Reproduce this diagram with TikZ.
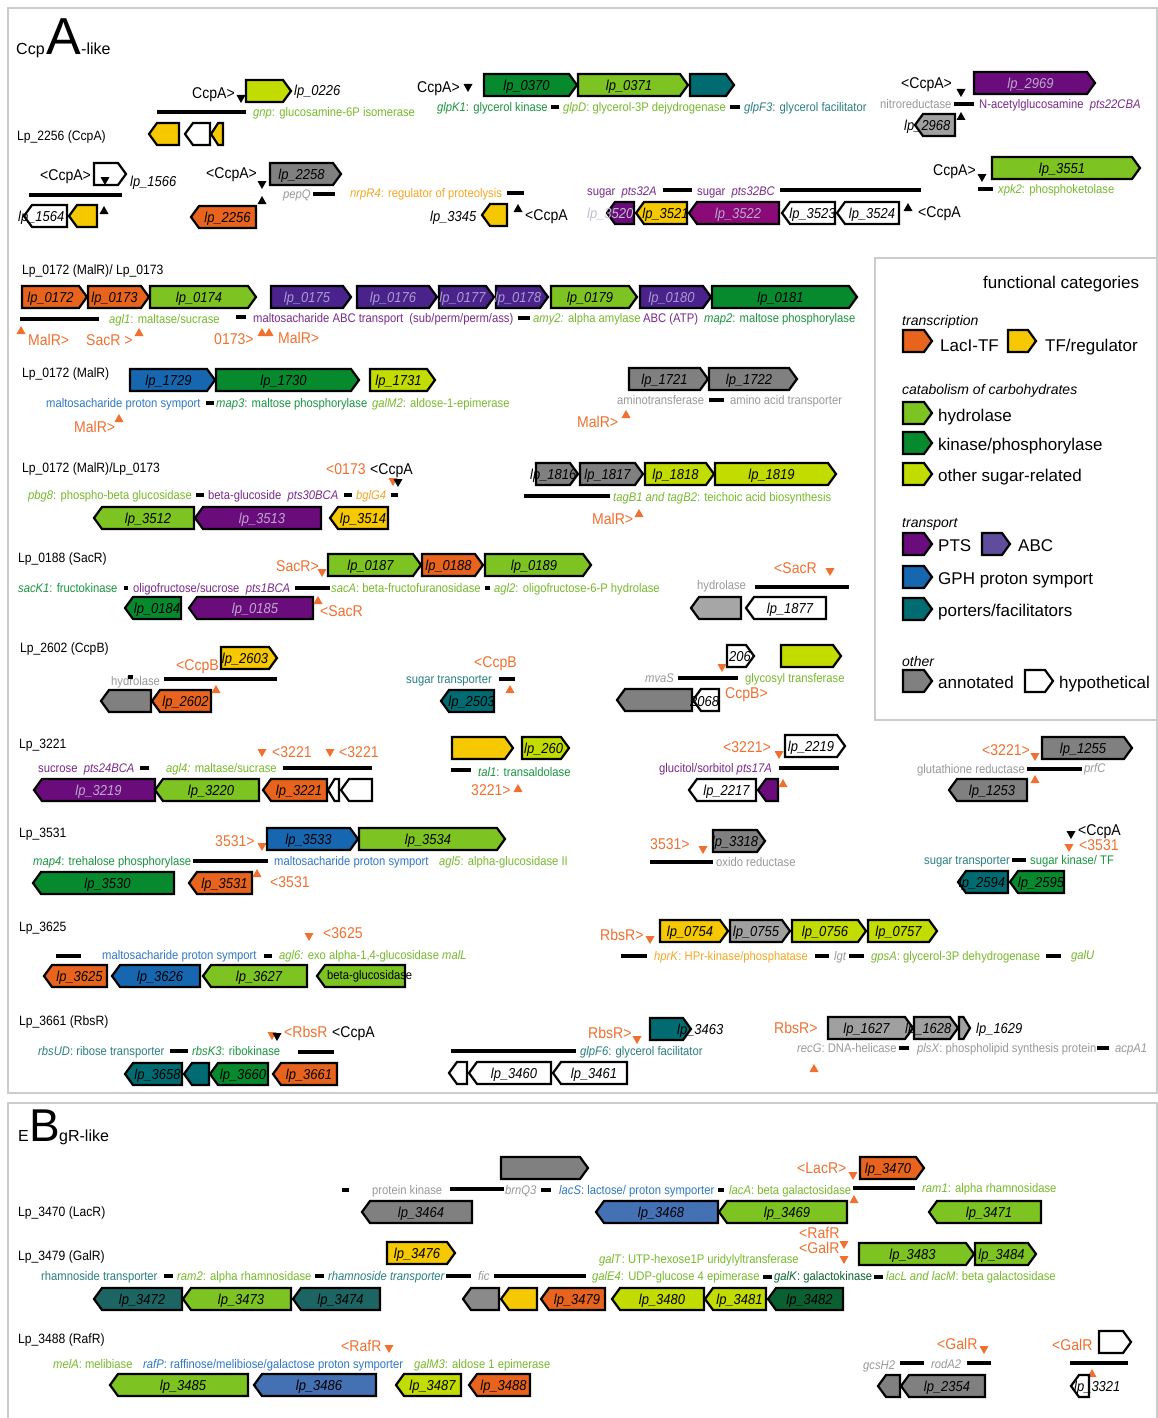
\documentclass[tikz,border=0pt]{standalone}
\usepackage{fontspec}
\setmainfont{Liberation Sans}
\newfontfamily\nar[FakeStretch=0.9]{Liberation Sans}
\definecolor{laci}{HTML}{E8641E}
\definecolor{tfy}{HTML}{F5C800}
\definecolor{hyd}{HTML}{7DC423}
\definecolor{kin}{HTML}{078A2E}
\definecolor{kinD}{HTML}{0A6030}
\definecolor{oth}{HTML}{C3DC00}
\definecolor{pts}{HTML}{6B0C7C}
\definecolor{ptsM}{HTML}{8A0A78}
\definecolor{abc}{HTML}{4A228C}
\definecolor{abcL}{HTML}{604C9C}
\definecolor{gph}{HTML}{1666B0}
\definecolor{gphB}{HTML}{4470B4}
\definecolor{por}{HTML}{006B70}
\definecolor{porB}{HTML}{1D6563}
\definecolor{ann}{HTML}{808080}
\definecolor{annB}{HTML}{8A8A8A}
\definecolor{gryL}{HTML}{A6A6A6}
\definecolor{gryM}{HTML}{A0A0A0}
\definecolor{tG}{HTML}{78BA2C}
\definecolor{tK}{HTML}{1A9640}
\definecolor{tKd}{HTML}{0A6432}
\definecolor{tT}{HTML}{2A7F82}
\definecolor{tP}{HTML}{7A2A8C}
\definecolor{tGr}{HTML}{999999}
\definecolor{tO}{HTML}{F07030}
\definecolor{tY}{HTML}{F5A623}
\definecolor{tB}{HTML}{2F78C4}
\definecolor{ltxt}{HTML}{BBA9CC}
\definecolor{ltxtA}{HTML}{A99BD0}
\definecolor{ltxtW}{HTML}{C4BCCC}
\definecolor{frm}{HTML}{CCCCCC}
\newcounter{nn}
\newcommand\LP[1]{lp\_#1}
\newcommand\Tx[4]{\stepcounter{nn}\node[#1] (t\thenn) at (#2,#3) {#4};}
\newcommand\Hb[3]{\draw[hbar] (#1,#3) -- (#2,#3);}
\newcommand\TrD[3]{\fill[#3] (#1-4.5,#2-4) -- (#1+4.5,#2-4) -- (#1,#2+4) -- cycle;}
\newcommand\TrU[3]{\fill[#3] (#1-4.5,#2+4) -- (#1+4.5,#2+4) -- (#1,#2-4) -- cycle;}
\newcommand\GR[6][black]{%
 \pgfmathsetmacro\gdd{min(8,0.6*(#3-#2))}%
 \filldraw[gene,fill=#5] (#2,#4-11) -- ({#3-\gdd},#4-11) -- (#3,#4) -- ({#3-\gdd},#4+11) -- (#2,#4+11) -- cycle;%
 \if\relax\detokenize{#6}\relax\else\stepcounter{nn}\node[glab,text=#1] (g\thenn) at ({(#2+#3-\gdd)/2},#4) {#6};\fi}
\newcommand\GL[6][black]{%
 \pgfmathsetmacro\gdd{min(8,0.6*(#3-#2))}%
 \filldraw[gene,fill=#5] (#3,#4-11) -- ({#2+\gdd},#4-11) -- (#2,#4) -- ({#2+\gdd},#4+11) -- (#3,#4+11) -- cycle;%
 \if\relax\detokenize{#6}\relax\else\stepcounter{nn}\node[glab,text=#1] (g\thenn) at ({(#2+#3+\gdd)/2},#4) {#6};\fi}
\tikzset{
 gene/.style={draw=black,line width=2.2pt},
 hbar/.style={draw=black,line width=3.6pt},
 frame/.style={draw=frm,line width=1.3pt},
 glab/.style={inner sep=0pt,font=\nar\fontsize{14.4}{16}\selectfont\itshape,text height=10.4pt,text depth=0pt},
 ann/.style={anchor=west,inner sep=0pt,font=\nar\fontsize{12.5}{14}\selectfont,text height=9pt,text depth=0pt},
 rowl/.style={anchor=west,inner sep=0pt,font=\nar\fontsize{13.5}{15}\selectfont,text height=9.7pt,text depth=0pt},
 reg/.style={anchor=west,inner sep=0pt,font=\nar\fontsize{15.6}{17}\selectfont,text height=11.2pt,text depth=0pt},
 regO/.style={reg,text=tO},
 legt/.style={anchor=west,inner sep=0pt,font=\fontsize{17}{19}\selectfont,text height=12.2pt,text depth=0pt},
 legi/.style={anchor=west,inner sep=0pt,font=\fontsize{14}{16}\selectfont\itshape,text height=10pt,text depth=0pt},
}
\begin{document}
\begin{tikzpicture}[x=1pt,y=-1pt]
\fill[white] (0,0) rectangle (1158,1418);
\useasboundingbox (0,0) rectangle (1158,1418);
% frames
\draw[frame] (8,8) rectangle (1157,1093);
\draw[frame] (8,1103) rectangle (1157,1430);
\draw[frame] (875,258) rectangle (1157,720);
% title A
\Tx{anchor=base west,inner sep=0pt,font=\fontsize{16}{18}\selectfont}{16}{55}{Ccp}
\Tx{anchor=base west,inner sep=0pt,font=\fontsize{52}{54}\selectfont}{46}{55}{A}
\Tx{anchor=base west,inner sep=0pt,font=\fontsize{16}{18}\selectfont}{81}{55}{-like}
% ---- row 1
\Tx{reg}{192}{93}{CcpA>}
\TrD{241}{99}{black}
\GR{246}{291}{91}{oth}{}
\Tx{glab,anchor=west}{294}{90}{\LP{0226}}
\Hb{157}{246}{112}
\Tx{ann,text=tG}{253}{112}{\textit{gnp}: glucosamine-6P isomerase}
\GL{149}{179}{134}{tfy}{}
\GL{185}{210}{134}{white}{}
\GL{211}{223}{134}{tfy}{}
\Tx{rowl}{17}{136}{Lp\_2256 (CcpA)}
\Tx{reg}{417}{87}{CcpA>}
\TrD{468}{88}{black}
\GR{484}{577}{85}{kin}{\LP{0370}}
\GR{578}{688}{85}{hyd}{\LP{0371}}
\GR{690}{734}{85}{por}{}
\Tx{ann,text=tK}{437}{107}{\textit{glpK1}: glycerol kinase}
\Hb{551}{559}{107}
\Tx{ann,text=tG}{563}{107}{\textit{glpD}: glycerol-3P dejydrogenase}
\Hb{730}{740}{107}
\Tx{ann,text=tT}{744}{107}{\textit{glpF3}: glycerol facilitator}
\Tx{reg}{901}{83}{<CcpA>}
\TrD{961}{93}{black}
\GR[ltxt]{974}{1095}{83}{pts}{\LP{2969}}
\Tx{ann,text=tGr}{880}{104}{nitroreductase}
\Hb{954}{974}{104}
\Tx{ann,text=tP}{979}{104}{N-acetylglucosamine\ \ \textit{pts22CBA}}
\TrU{961}{116}{black}
\GL{915}{955}{125}{gryM}{}
\Tx{glab,anchor=west}{904}{125}{\LP{2968}}
% ---- row 2
\Tx{reg}{40}{175}{<CcpA>}
\GR{94}{126}{174}{white}{}
\TrD{105}{181}{black}
\Tx{glab,anchor=west}{130}{181}{\LP{1566}}
\Hb{29}{122}{195}
\GL{24}{67}{216}{white}{}
\Tx{glab,anchor=west}{18}{216}{\LP{1564}}
\GL{69}{97}{216}{tfy}{}
\TrU{104}{210}{black}
\Tx{reg}{206}{173}{<CcpA>}
\TrD{262}{185}{black}
\TrU{262}{200}{black}
\GR{270}{341}{174}{ann}{\LP{2258}}
\Tx{ann,text=tGr}{283}{194}{\textit{pepQ}}
\Hb{313}{335}{194}
\GL{191}{256}{217}{laci}{\LP{2256}}
\Tx{ann,text=tY}{350}{193}{\textit{nrpR4}: regulator of proteolysis}
\Hb{507}{524}{193}
\Tx{glab,anchor=west}{430}{216}{\LP{3345}}
\GL{482}{507}{215}{tfy}{}
\TrU{518}{208}{black}
\Tx{reg}{525}{215}{<CcpA}
\Tx{ann,text=tP}{587}{191}{sugar\ \ \textit{pts32A}}
\Hb{663}{692}{190}
\Tx{ann,text=tP}{697}{191}{sugar\ \ \textit{pts32BC}}
\Hb{780}{921}{190}
\GL{607}{634}{213}{pts}{}
\Tx{glab,anchor=west,text=ltxtW}{587}{213}{\LP{3520}}
\GL{636}{687}{213}{tfy}{\LP{3521}}
\GL[ltxt]{689}{779}{213}{ptsM}{\LP{3522}}
\GL{782}{835}{213}{white}{\LP{3523}}
\GL{837}{899}{213}{white}{\LP{3524}}
\TrU{908}{207}{black}
\Tx{reg}{918}{212}{<CcpA}
\Tx{reg}{933}{170}{CcpA>}
\TrD{982}{178}{black}
\GR{992}{1140}{168}{hyd}{\LP{3551}}
\Hb{978}{993}{189}
\Tx{ann,text=tG}{998}{189}{\textit{xpk2}: phosphoketolase}
% ---- legend
\Tx{legt}{983}{282}{functional categories}
\Tx{legi}{902}{320}{transcription}
\GR{903}{932}{341}{laci}{}
\Tx{legt}{940}{345}{LacI-TF}
\GR{1008}{1036}{341}{tfy}{}
\Tx{legt}{1045}{345}{TF/regulator}
\Tx{legi}{902}{389}{catabolism of carbohydrates}
\GR{903}{932}{413}{hyd}{}
\Tx{legt}{938}{415}{hydrolase}
\GR{903}{932}{443}{kin}{}
\Tx{legt}{938}{444}{kinase/phosphorylase}
\GR{903}{932}{474}{oth}{}
\Tx{legt}{938}{475}{other sugar-related}
\Tx{legi}{902}{522}{transport}
\GR{903}{932}{544}{pts}{}
\Tx{legt}{938}{545}{PTS}
\GR{982}{1010}{544}{abcL}{}
\Tx{legt}{1018}{545}{ABC}
\GR{903}{932}{577}{gph}{}
\Tx{legt}{938}{578}{GPH proton symport}
\GR{903}{932}{609}{por}{}
\Tx{legt}{938}{610}{porters/facilitators}
\Tx{legi}{902}{661}{other}
\GR{903}{932}{681}{ann}{}
\Tx{legt}{938}{682}{annotated}
\GR{1025}{1053}{681}{white}{}
\Tx{legt}{1059}{682}{hypothetical}
% ---- row 3
\Tx{rowl}{22}{270}{Lp\_0172 (MalR)/ Lp\_0173}
\GR{22}{87}{297}{laci}{\LP{0172}}
\GR{88}{149}{297}{laci}{\LP{0173}}
\GR{150}{256}{297}{hyd}{\LP{0174}}
\GR[ltxtA]{271}{351}{297}{abc}{\LP{0175}}
\GR[ltxtA]{357}{437}{297}{abc}{\LP{0176}}
\GR[ltxtA]{439}{494}{297}{abc}{\LP{0177}}
\GR[ltxtA]{496}{548}{297}{abc}{\LP{0178}}
\GR{551}{637}{297}{hyd}{\LP{0179}}
\GR[ltxtA]{640}{711}{297}{abc}{\LP{0180}}
\GR{712}{857}{297}{kin}{\LP{0181}}
\Hb{20}{99}{319}
\Tx{ann,text=tG}{109}{319}{\textit{agl1}: maltase/sucrase}
\Hb{236}{246}{317}
\Tx{ann,text=tP}{253}{318}{maltosacharide ABC transport\ \ (sub/perm/perm/ass)}
\Hb{518}{530}{318}
\Tx{ann,text=tG}{533}{318}{\textit{amy2:} alpha amylase}
\Tx{ann,text=tP}{643}{318}{ABC (ATP)}
\Tx{ann,text=tK}{704}{318}{\textit{map2}: maltose phosphorylase}
\TrU{21}{330}{tO}
\Tx{regO}{28}{340}{MalR>}
\Tx{regO}{86}{340}{SacR >}
\TrU{139}{332}{tO}
\Tx{regO}{214}{339}{0173>}
\TrU{262}{332}{tO}
\TrU{269}{332}{tO}
\Tx{regO}{278}{338}{MalR>}
% ---- row 4
\Tx{rowl}{22}{373}{Lp\_0172 (MalR)}
\GR{130}{215}{380}{gph}{\LP{1729}}
\GR{216}{359}{380}{kin}{\LP{1730}}
\GR{370}{435}{380}{oth}{\LP{1731}}
\Tx{ann,text=tB}{46}{403}{maltosacharide proton symport}
\Hb{206}{214}{403}
\Tx{ann,text=tK}{216}{403}{\textit{map3}: maltose phosphorylase}
\Tx{ann,text=tG}{372}{403}{\textit{galM2}: aldose-1-epimerase}
\Tx{regO}{74}{427}{MalR>}
\TrU{119}{418}{tO}
\GR{629}{708}{379}{ann}{\LP{1721}}
\GR{709}{797}{379}{ann}{\LP{1722}}
\Tx{ann,text=tGr}{617}{400}{aminotransferase}
\Hb{709}{724}{400}
\Tx{ann,text=tGr}{730}{400}{amino acid transporter}
\Tx{regO}{577}{422}{MalR>}
\TrU{626}{414}{tO}
% ---- row 5
\Tx{rowl}{22}{468}{Lp\_0172 (MalR)/Lp\_0173}
\Tx{regO}{326}{469}{<0173}
\Tx{reg}{370}{469}{<CcpA}
\TrD{393}{482}{tO}
\TrD{398}{483}{black}
\Tx{ann,text=tG}{28}{495}{\textit{pbg8}: phospho-beta glucosidase}
\Hb{196}{204}{495}
\Tx{ann,text=tP}{208}{495}{beta-glucoside\ \ \textit{pts30BCA}}
\Hb{344}{352}{495}
\Tx{ann,text=tY}{356}{495}{\textit{bglG4}}
\Hb{391}{398}{495}
\GL{94}{194}{518}{hyd}{\LP{3512}}
\GL[ltxt]{195}{321}{518}{pts}{\LP{3513}}
\GL{330}{388}{518}{tfy}{\LP{3514}}
\GR{536}{578}{474}{ann}{}
\Tx{glab,anchor=west}{530}{474}{\LP{1816}}
\GR{580}{643}{474}{ann}{\LP{1817}}
\GR{645}{714}{474}{oth}{\LP{1818}}
\GR{715}{836}{474}{oth}{\LP{1819}}
\Hb{524}{610}{496}
\Tx{ann,text=tG}{613}{497}{\textit{tagB1 and tagB2}: teichoic acid biosynthesis}
\Tx{regO}{592}{519}{MalR>}
\TrU{639}{513}{tO}
% ---- row 6
\Tx{rowl}{18}{558}{Lp\_0188 (SacR)}
\Tx{regO}{276}{566}{SacR>}
\TrD{322}{573}{tO}
\GR{328}{421}{565}{hyd}{\LP{0187}}
\GR{422}{483}{565}{laci}{\LP{0188}}
\GR{485}{591}{565}{hyd}{\LP{0189}}
\Tx{ann,text=tK}{18}{588}{\textit{sacK1}: fructokinase}
\Hb{124}{128}{588}
\Tx{ann,text=tP}{133}{588}{oligofructose/sucrose\ \ \textit{pts1BCA}}
\Hb{295}{330}{588}
\Tx{ann,text=tG}{331}{588}{\textit{sacA}: beta-fructofuranosidase}
\Hb{485}{490}{588}
\Tx{ann,text=tG}{494}{588}{\textit{agl2}: oligofructose-6-P hydrolase}
\GL{125}{181}{608}{kin}{\LP{0184}}
\GL[ltxt]{189}{313}{608}{pts}{\LP{0185}}
\TrU{318}{600}{tO}
\Tx{regO}{320}{611}{<SacR}
\Tx{regO}{774}{568}{<SacR}
\TrD{830}{572}{tO}
\Tx{ann,text=tGr}{697}{585}{hydrolase}
\Hb{755}{849}{587}
\GL{691}{741}{608}{gryL}{}
\GL{746}{826}{608}{white}{\LP{1877}}
% ---- row 7
\Tx{rowl}{20}{648}{Lp\_2602 (CcpB)}
\Tx{regO}{176}{665}{<CcpB}
\GR{221}{277}{658}{tfy}{\LP{2603}}
\Tx{ann,text=tGr}{111}{681}{hydrolase}
\Hb{128}{133}{677}
\Hb{164}{277}{679}
\GL{101}{151}{701}{ann}{}
\GL{152}{211}{701}{laci}{\LP{2602}}
\TrU{216}{689}{tO}
\Tx{regO}{474}{662}{<CcpB}
\Tx{ann,text=tT}{406}{679}{sugar transporter}
\Hb{499}{515}{679}
\GL{441}{494}{701}{por}{\LP{2503}}
\TrU{510}{689}{tO}
\GR{727}{754}{656}{white}{}
\Tx{glab,anchor=west}{729}{656}{206}
\GR{781}{841}{656}{oth}{}
\Tx{ann,text=tGr}{645}{678}{\textit{mvaS}}
\Hb{678}{738}{678}
\TrD{722}{668}{tO}
\Tx{ann,text=tG}{745}{678}{glycosyl transferase}
\GL{617}{692}{700}{ann}{}
\GL{693}{719}{700}{white}{}
\Tx{glab,anchor=west}{690}{701}{2068}
\Tx{regO}{725}{693}{CcpB>}
% ---- row 8
\Tx{rowl}{19}{744}{Lp\_3221}
\TrD{262}{753}{tO}
\Tx{regO}{272}{752}{<3221}
\TrD{330}{753}{tO}
\Tx{regO}{339}{752}{<3221}
\Tx{ann,text=tP}{38}{768}{sucrose\ \ \textit{pts24BCA}}
\Hb{140}{149}{768}
\Tx{ann,text=tG}{166}{768}{\textit{agl4:} maltase/sucrase}
\Hb{283}{372}{768}
\GL[ltxt]{34}{155}{790}{pts}{\LP{3219}}
\GL{155}{259}{790}{hyd}{\LP{3220}}
\GL{263}{327}{790}{laci}{\LP{3221}}
\GL{328}{339}{790}{white}{}
\GL{341}{372}{790}{white}{}
\GR{452}{513}{748}{tfy}{}
\GR{522}{569}{748}{oth}{}
\Tx{glab,anchor=west}{524}{748}{\LP{260}}
\Hb{451}{471}{770}
\Tx{ann,text=tK}{478}{772}{\textit{tal1}: transaldolase}
\Tx{regO}{471}{790}{3221>}
\TrU{518}{788}{tO}
\Tx{regO}{723}{747}{<3221>}
\TrD{779}{755}{tO}
\GR{785}{845}{746}{white}{\LP{2219}}
\Tx{ann,text=tP}{659}{768}{glucitol/sorbitol \textit{pts17A}}
\Hb{779}{839}{768}
\GL{689}{756}{790}{white}{\LP{2217}}
\GL{758}{778}{790}{pts}{}
\TrU{783}{783}{tO}
\Tx{regO}{982}{750}{<3221>}
\TrD{1035}{757}{tO}
\GR{1042}{1132}{748}{ann}{\LP{1255}}
\Tx{ann,text=tGr}{917}{769}{glutathione reductase}
\Hb{1027}{1082}{769}
\Tx{ann,text=tGr}{1084}{768}{\textit{prfC}}
\GL{949}{1027}{790}{ann}{\LP{1253}}
\TrU{1035}{779}{tO}
% ---- row 9
\Tx{rowl}{19}{833}{Lp\_3531}
\Tx{regO}{215}{841}{3531>}
\TrD{262}{847}{tO}
\GR{267}{358}{839}{gph}{\LP{3533}}
\GR{359}{505}{839}{hyd}{\LP{3534}}
\Tx{ann,text=tK}{33}{861}{\textit{map4}: trehalose phosphorylase}
\Hb{193}{268}{861}
\Tx{ann,text=tB}{274}{861}{maltosacharide proton symport}
\Tx{ann,text=tG}{439}{861}{\textit{agl5}: alpha-glucosidase II}
\GL{33}{174}{883}{kin}{\LP{3530}}
\GL{189}{252}{883}{laci}{\LP{3531}}
\TrU{257}{873}{tO}
\Tx{regO}{270}{882}{<3531}
\Tx{regO}{650}{844}{3531>}
\TrD{703}{850}{tO}
\GR{713}{765}{841}{ann}{\LP{3318}}
\Hb{650}{713}{862}
\Tx{ann,text=tGr}{716}{862}{oxido reductase}
\TrD{1071}{835}{black}
\Tx{reg}{1078}{830}{<CcpA}
\TrD{1069}{848}{tO}
\Tx{regO}{1079}{845}{<3531}
\Tx{ann,text=tT}{924}{860}{sugar transporter}
\Hb{1012}{1026}{860}
\Tx{ann,text=tK}{1030}{860}{sugar kinase/ TF}
\GL{958}{1008}{882}{por}{}
\Tx{glab}{982}{882}{\LP{2594}}
\GL{1010}{1064}{882}{kin}{\LP{2595}}
% ---- row 10
\Tx{rowl}{19}{927}{Lp\_3625}
\TrD{309}{937}{tO}
\Tx{regO}{323}{933}{<3625}
\Hb{56}{81}{956}
\Tx{ann,text=tB}{102}{955}{maltosacharide proton symport}
\Hb{264}{272}{956}
\Tx{ann,text=tG}{279}{955}{\textit{agl6:} exo alpha-1,4-glucosidase \textit{malL}}
\GL{44}{107}{976}{laci}{\LP{3625}}
\GL{112}{200}{976}{gph}{\LP{3626}}
\GL{203}{307}{976}{hyd}{\LP{3627}}
\GL{317}{405}{976}{hyd}{}
\Tx{ann}{327}{975}{beta-glucosidase}
\Tx{regO}{600}{935}{RbsR>}
\TrD{650}{940}{tO}
\GR{660}{728}{931}{tfy}{\LP{0754}}
\GR{730}{790}{931}{gryM}{\LP{0755}}
\GR{792}{866}{931}{oth}{\LP{0756}}
\GR{868}{937}{931}{oth}{\LP{0757}}
\Hb{621}{647}{956}
\Tx{ann,text=tY}{654}{956}{\textit{hprK}: HPr-kinase/phosphatase}
\Hb{815}{829}{956}
\Tx{ann,text=tGr}{834}{956}{\textit{lgt}}
\Hb{849}{864}{956}
\Tx{ann,text=tG}{871}{956}{\textit{gpsA}: glycerol-3P dehydrogenase}
\Hb{1046}{1061}{956}
\Tx{ann,text=tG}{1071}{955}{\textit{galU}}
% ---- row 11
\Tx{rowl}{19}{1021}{Lp\_3661 (RbsR)}
\TrD{272}{1036}{tO}
\TrD{277}{1037}{black}
\Tx{regO}{284}{1032}{<RbsR}
\Tx{reg}{332}{1032}{<CcpA}
\Tx{ann,text=tT}{38}{1051}{\textit{rbsUD}: ribose transporter}
\Hb{170}{188}{1051}
\Tx{ann,text=tK}{192}{1051}{\textit{rbsK3}: ribokinase}
\Hb{298}{334}{1052}
\GL{125}{182}{1074}{por}{\LP{3658}}
\GL{184}{209}{1074}{por}{}
\GL{210}{268}{1074}{kin}{\LP{3660}}
\GL{273}{337}{1074}{laci}{\LP{3661}}
\Tx{regO}{588}{1033}{RbsR>}
\TrD{637}{1040}{tO}
\GR{650}{691}{1029}{por}{}
\Tx{glab,anchor=west}{677}{1029}{\LP{3463}}
\Hb{451}{576}{1051}
\Tx{ann,text=tT}{580}{1051}{\textit{glpF6}: glycerol facilitator}
\GL{449}{467}{1073}{white}{}
\GL{469}{551}{1073}{white}{\LP{3460}}
\GL{553}{627}{1073}{white}{\LP{3461}}
\Tx{regO}{774}{1028}{RbsR>}
\GR{828}{913}{1028}{gryM}{\LP{1627}}
\GR{914}{958}{1028}{gryM}{}
\Tx{glab,anchor=west}{905}{1028}{\LP{1628}}
\GR{959}{970}{1028}{gryM}{}
\Tx{glab,anchor=west}{976}{1028}{\LP{1629}}
\Tx{ann,text=tGr}{797}{1048}{\textit{recG}: DNA-helicase}
\Hb{899}{909}{1048}
\Tx{ann,text=tGr}{917}{1048}{\textit{plsX}: phospholipid synthesis protein}
\Hb{1097}{1109}{1048}
\Tx{ann,text=tGr}{1115}{1048}{\textit{acpA1}}
\TrU{814}{1068}{tO}
% ==== panel B
\Tx{anchor=base west,inner sep=0pt,font=\fontsize{16}{18}\selectfont}{18}{1141}{E}
\Tx{anchor=base west,inner sep=0pt,font=\fontsize{46}{48}\selectfont}{29}{1141}{B}
\Tx{anchor=base west,inner sep=0pt,font=\fontsize{16}{18}\selectfont}{59}{1141}{gR-like}
% LacR
\Tx{rowl}{18}{1212}{Lp\_3470 (LacR)}
\GR{501}{588}{1168}{ann}{}
\Hb{342}{349}{1190}
\Tx{ann,text=tGr}{372}{1190}{protein kinase}
\Hb{450}{504}{1189}
\Tx{ann,text=tGr}{505}{1190}{\textit{brnQ3}}
\Hb{541}{551}{1190}
\Tx{ann,text=tB}{559}{1190}{\textit{lacS}: lactose/ proton symporter}
\Hb{718}{724}{1190}
\Tx{ann,text=tG}{729}{1190}{\textit{lacA}: beta galactosidase}
\Hb{853}{915}{1188}
\Tx{ann,text=tG}{922}{1188}{\textit{ram1}: alpha rhamnosidase}
\Tx{regO}{797}{1168}{<LacR>}
\TrD{853}{1176}{tO}
\GR{860}{924}{1168}{laci}{\LP{3470}}
\GL{362}{472}{1212}{ann}{\LP{3464}}
\GL{596}{718}{1212}{gphB}{\LP{3468}}
\GL{719}{847}{1212}{hyd}{\LP{3469}}
\TrU{854}{1199}{tO}
\GL{929}{1041}{1212}{hyd}{\LP{3471}}
% GalR
\Tx{rowl}{18}{1256}{Lp\_3479 (GalR)}
\GR{387}{455}{1253}{tfy}{\LP{3476}}
\Tx{regO}{799}{1233}{<RafR}
\Tx{regO}{799}{1248}{<GalR}
\TrD{844}{1245}{tO}
\TrD{844}{1260}{tO}
\GR{859}{974}{1254}{hyd}{\LP{3483}}
\GR{975}{1036}{1254}{hyd}{\LP{3484}}
\Tx{ann,text=tG}{599}{1259}{\textit{galT}: UTP-hexose1P uridylyltransferase}
\Tx{ann,text=tT}{41}{1276}{rhamnoside transporter}
\Hb{164}{173}{1276}
\Tx{ann,text=tG}{177}{1276}{\textit{ram2}: alpha rhamnosidase}
\Hb{315}{324}{1276}
\Tx{ann,text=tT}{328}{1276}{\textit{rhamnoside transporter}}
\Hb{446}{471}{1276}
\Tx{ann,text=tGr}{478}{1276}{\textit{fic}}
\Hb{494}{586}{1276}
\Tx{ann,text=tG}{592}{1276}{\textit{galE4}: UDP-glucose 4 epimerase}
\Hb{763}{772}{1277}
\Tx{ann,text=tKd}{774}{1276}{\textit{galK}: galactokinase}
\Hb{874}{883}{1277}
\Tx{ann,text=tG}{886}{1276}{\textit{lacL and lacM}: beta galactosidase}
\GL{94}{182}{1299}{porB}{\LP{3472}}
\GL{183}{291}{1299}{hyd}{\LP{3473}}
\GL{293}{380}{1299}{porB}{\LP{3474}}
\GL{463}{499}{1299}{annB}{}
\GL{501}{537}{1299}{tfy}{}
\GL{541}{605}{1299}{laci}{\LP{3479}}
\GL{612}{704}{1299}{oth}{\LP{3480}}
\GL{705}{766}{1299}{oth}{\LP{3481}}
\GL{768}{843}{1299}{kinD}{\LP{3482}}
% RafR
\Tx{rowl}{18}{1339}{Lp\_3488 (RafR)}
\Tx{regO}{341}{1346}{<RafR}
\TrD{389}{1349}{tO}
\Tx{ann,text=tG}{53}{1364}{\textit{melA}: melibiase}
\Tx{ann,text=tB}{143}{1364}{\textit{rafP}: raffinose/melibiose/galactose proton symporter}
\Tx{ann,text=tG}{414}{1364}{\textit{galM3}: aldose 1 epimerase}
\GL{110}{248}{1385}{hyd}{\LP{3485}}
\GL{254}{376}{1385}{gphB}{\LP{3486}}
\GL{396}{461}{1385}{oth}{\LP{3487}}
\GL{469}{530}{1385}{laci}{\LP{3488}}
\Tx{regO}{937}{1344}{<GalR}
\TrD{984}{1350}{tO}
\Tx{ann,text=tGr}{863}{1365}{\textit{gcsH2}}
\Hb{900}{924}{1363}
\Tx{ann,text=tGr}{931}{1364}{\textit{rodA2}}
\Hb{967}{991}{1363}
\GL{878}{900}{1386}{ann}{}
\GL{901}{985}{1386}{ann}{\LP{2354}}
\Tx{regO}{1052}{1345}{<GalR}
\GR{1099}{1131}{1342}{white}{}
\Hb{1070}{1128}{1363}
\TrU{1092}{1373}{tO}
\GL{1071}{1089}{1386}{white}{}
\Tx{glab,anchor=west}{1074}{1386}{\LP{3321}}
\end{tikzpicture}
\end{document}
